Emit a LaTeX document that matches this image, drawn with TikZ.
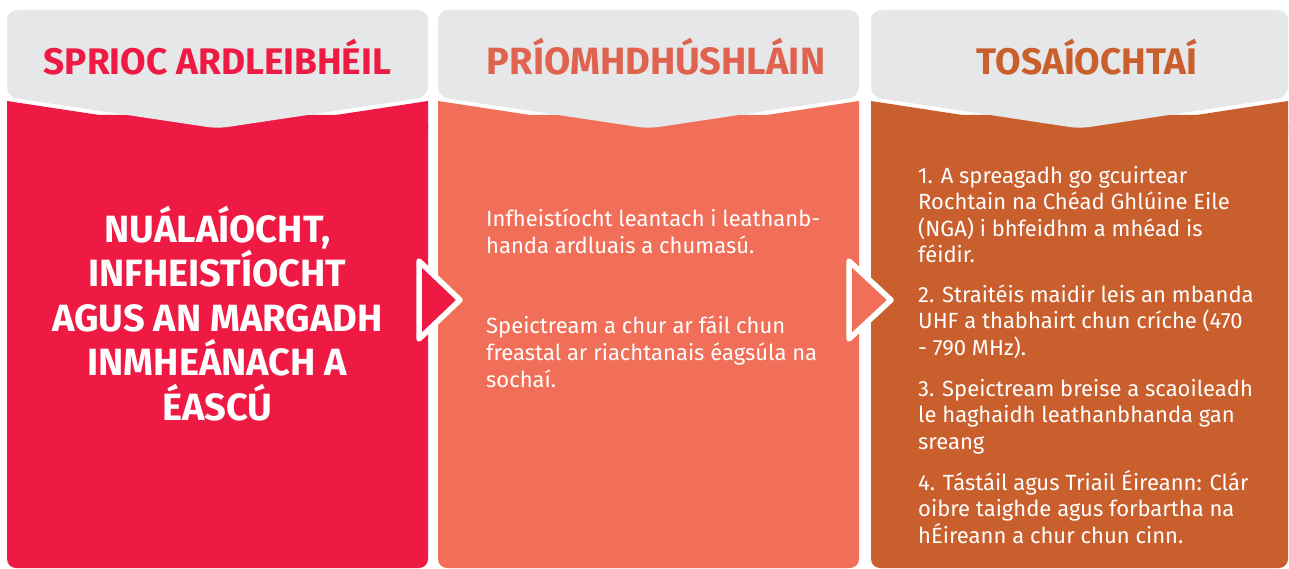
\documentclass[tikz,border=0pt]{standalone}
\usepackage{fontspec}
\setmainfont{Fira Sans}
\definecolor{cred}{HTML}{EE1A43}
\definecolor{csalmon}{HTML}{F16F58}
\definecolor{csalmonhd}{HTML}{DF634F}
\definecolor{corange}{HTML}{CA5F2E}
\definecolor{cgrey}{HTML}{E6E7E8}
\tikzset{
  headbox/.style={fill=cgrey, rounded corners=10pt},
  headtext/.style={anchor=base, font=\bfseries\fontsize{37}{40}\selectfont, inner sep=0pt},
  bodytext/.style={anchor=base west, align=left, text=white, inner sep=0pt, font=\fontsize{22}{26.3}\selectfont},
  arrowtri/.style={draw=white, line width=5.5pt, line join=round},
}
\begin{document}
\begin{tikzpicture}[x=1pt,y=-1pt]
\useasboundingbox (0,0) rectangle (1289,569);
% column bodies
\foreach \xa/\xb/\col in {7/428/cred, 438/859/csalmon, 871/1288/corange}{
  \pgfmathsetmacro{\xm}{(\xa+\xb)/2}
  \fill[\col, rounded corners=9pt] (\xa,115) rectangle (\xb,568);
  \fill[\col] (\xa,101) -- (\xm,133) -- (\xb,101) -- (\xb,130) -- (\xa,130) -- cycle;
  \fill[headbox] (\xa,97) -- (\xa,10) -- (\xb,10) -- (\xb,97) -- (\xm,128.5) -- cycle;
}
% headings
\node[headtext, text=cred] (h1) at (217.5,75) {SPRIOC ARDLEIBHÉIL};
\node[headtext, text=csalmonhd, font=\bfseries\fontsize{38}{40}\selectfont] (h2) at (656,75) {PRÍOMHDHÚSHLÁIN};
\node[headtext, text=corange] (h3) at (1087,75) {TOSAÍOCHTAÍ};
% column 1 body (anchored at last baseline)
\node[anchor=base, align=center, text=white, inner sep=0pt, font=\bfseries\fontsize{38}{44.5}\selectfont] (b1) at (217.5,420)
  {NUÁLAÍOCHT,\\INFHEISTÍOCHT\\AGUS AN MARGADH\\INMHEÁNACH A\\ÉASCÚ};
% column 2 body
\node[bodytext, font=\fontsize{22}{26.8}\selectfont] (b2) at (486,387)
  {Infheistíocht leantach i leathanb-\\handa ardluais a chumasú.\\[53.4pt]
   Speictream a chur ar fáil chun\\freastal ar riachtanais éagsúla na\\sochaí.};
% column 3 body
\node[bodytext] (b3) at (918,543)
  {1. A spreagadh go gcuirtear\\Rochtain na Chéad Ghlúine Eile\\(NGA) i bhfeidhm a mhéad is\\féidir.\\[14pt]
   2. Straitéis maidir leis an mbanda\\UHF a thabhairt chun críche (470\\- 790 MHz).\\[15pt]
   3. Speictream breise a scaoileadh\\le haghaidh leathanbhanda gan\\sreang\\[15pt]
   4. Tástáil agus Triail Éireann: Clár\\oibre taighde agus forbartha na\\hÉireann a chur chun cinn.};
% arrows
\filldraw[arrowtri, fill=cred] (419,261) -- (460,300) -- (419,339) -- cycle;
\filldraw[arrowtri, fill=csalmon] (849,261) -- (891,300) -- (849,339) -- cycle;
\end{tikzpicture}
\end{document}
